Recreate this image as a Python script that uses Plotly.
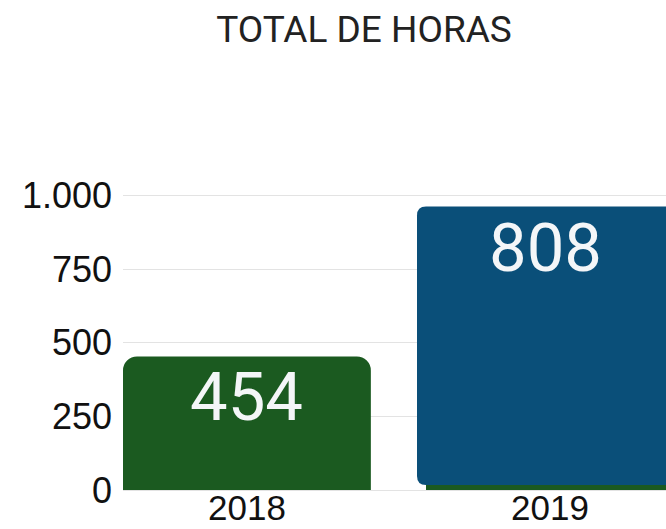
import plotly.graph_objects as go

# ---- data ----
years = ["2018", "2019"]
hours = [454, 808]
bar_color = "#1b5a20"

# highlighted (hover-style) box drawn over the 2019 bar
highlight_index = 1
highlight_bottom = 17
highlight_top = 963
highlight_color = "#0a4f79"

y_ticks = [0, 250, 500, 750, 1000]
y_tick_text = ["0", "250", "500", "750", "1.000"]

title_text = "TOTAL DE HORAS"

# ---- geometry helpers ----
W, H = 666, 529
M_L, M_R, M_T, M_B = 123, 0, 181, 39
PX_PER_CAT = 303
X_LEFT = -0.409
X_RANGE = [X_LEFT, X_LEFT + (W - M_L - M_R) / PX_PER_CAT]
Y_RANGE = [0, 1050]
BAR_W = 0.818
px_per_x = (W - M_L - M_R) / (X_RANGE[1] - X_RANGE[0])
px_per_y = (H - M_T - M_B) / (Y_RANGE[1] - Y_RANGE[0])
HL_PAD = 9 / px_per_x          # highlight box grows 9px each side
R_PX = 9
rx, ry = R_PX / px_per_x, R_PX / px_per_y

x_pos = list(range(len(years)))

fig = go.Figure()

fig.add_trace(go.Bar(
    x=x_pos, y=hours, width=BAR_W,
    marker=dict(color=bar_color, cornerradius=14, line=dict(width=0)),
    hoverinfo="skip", showlegend=False,
))

# highlight box with four rounded corners (in data coordinates)
x0 = x_pos[highlight_index] - BAR_W / 2 - HL_PAD
x1 = x_pos[highlight_index] + BAR_W / 2 + HL_PAD
y0, y1 = highlight_bottom, highlight_top
path = (
    f"M {x0+rx},{y0} L {x1-rx},{y0} Q {x1},{y0} {x1},{y0+ry} "
    f"L {x1},{y1-ry} Q {x1},{y1} {x1-rx},{y1} "
    f"L {x0+rx},{y1} Q {x0},{y1} {x0},{y1-ry} "
    f"L {x0},{y0+ry} Q {x0},{y0} {x0+rx},{y0} Z"
)
fig.add_shape(type="path", path=path, xref="x", yref="y",
              fillcolor=highlight_color, line=dict(width=0), layer="above")

# value labels
label_tops = [hours[0], highlight_top]
x_shifts = [0, -4]
for xp, val, top, xs in zip(x_pos, hours, label_tops, x_shifts):
    fig.add_annotation(
        x=xp, y=top, xref="x", yref="y", text=str(val), showarrow=False,
        yanchor="middle", xanchor="center", yshift=-41, xshift=xs,
        font=dict(family="Roboto", size=67, color="#f4f6f8"),
    )

fig.update_layout(
    width=W, height=H,
    margin=dict(l=M_L, r=M_R, t=M_T, b=M_B, autoexpand=False),
    paper_bgcolor="white", plot_bgcolor="white",
    barmode="overlay",
    hovermode=False,
    title=dict(text=title_text, x=364 / W, xanchor="center",
               y=1 - 29 / H, yanchor="middle",
               font=dict(family="Roboto", size=37, color="#222222")),
    xaxis=dict(range=X_RANGE, tickvals=x_pos, ticktext=years,
               showgrid=False, showline=False, zeroline=False, automargin=False,
               ticklabelstandoff=-6,
               tickfont=dict(family="Liberation Sans", size=35, color="#111111"),
               ticks=""),
    yaxis=dict(range=Y_RANGE, tickvals=y_ticks, ticktext=y_tick_text,
               showgrid=True, gridcolor="#e3e3e3", gridwidth=1,
               zeroline=True, zerolinecolor="#e3e3e3", zerolinewidth=1,
               showline=False, ticks="", automargin=False,
               ticklabelstandoff=10,
               tickfont=dict(family="Liberation Sans", size=36, color="#111111")),
)

# let the 666x529 figure fill the window exactly (no default page margin)
fig.write_html(
    "out.html",
    config={"displayModeBar": False},
    post_script="document.body.style.margin='0';document.body.style.overflow='hidden';",
)
